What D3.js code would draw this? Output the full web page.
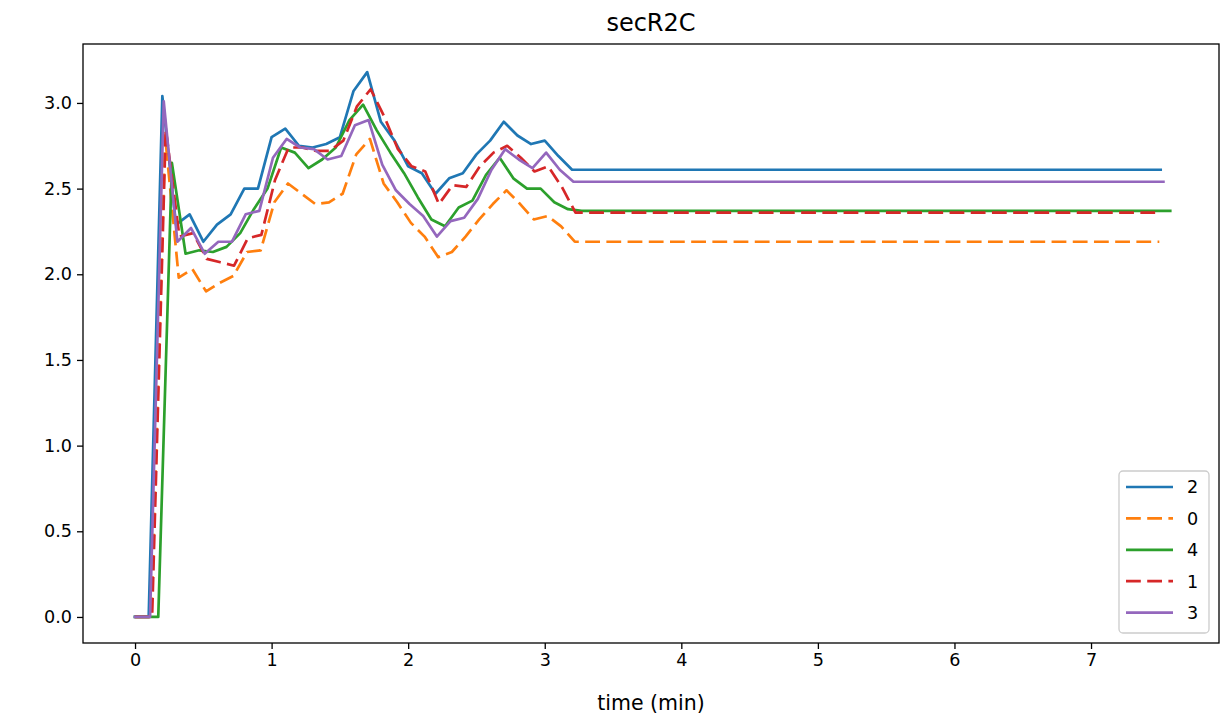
<!DOCTYPE html>
<html>
<head>
<meta charset="utf-8">
<script src="https://cdn.jsdelivr.net/npm/d3@7"></script>
<style>
  html, body { margin: 0; padding: 0; background: #fff; }
  svg { display: block; font-family: "DejaVu Sans", sans-serif; }
</style>
</head>
<body>
<svg id="chart" width="1221" height="720"></svg>
<script>
// ---- data ----
const chartTitle = "secR2C";
const xLabel = "time (min)";
const times = [0, 0.1, 0.2, 0.3, 0.4, 0.5, 0.6, 0.7, 0.8, 0.9, 1.0, 1.1, 1.2, 1.3, 1.4, 1.5, 1.6,
               1.7, 1.8, 1.9, 2.0, 2.1, 2.2, 2.3, 2.4, 2.5, 2.6, 2.7, 2.8, 2.9, 3.0, 3.1, 3.2];
const seriesNames = ["2", "0", "4", "1", "3"];
const timeShift = [0, 0.02, 0.07, 0.025, 0.01];
const endTimes = [7.51, 7.50, 7.58, 7.50, 7.53];
const values2 = [0, 0, 3.04, 2.29, 2.35, 2.19, 2.29, 2.35, 2.50, 2.50, 2.80, 2.85, 2.75, 2.74, 2.76, 2.80, 3.07,
                 3.18, 2.89, 2.78, 2.63, 2.59, 2.47, 2.56, 2.59, 2.70, 2.78, 2.89, 2.81, 2.76, 2.78, 2.69, 2.61];
const values0 = [0, 0, 2.81, 1.98, 2.03, 1.90, 1.95, 1.99, 2.13, 2.14, 2.42, 2.53, 2.47, 2.41, 2.42, 2.47, 2.70,
                 2.79, 2.53, 2.42, 2.30, 2.22, 2.10, 2.13, 2.22, 2.32, 2.41, 2.49, 2.41, 2.32, 2.34, 2.28, 2.19];
const values4 = [0, 0, 2.65, 2.12, 2.14, 2.13, 2.16, 2.24, 2.38, 2.50, 2.74, 2.71, 2.62, 2.67, 2.74, 2.90, 2.99,
                 2.84, 2.71, 2.59, 2.45, 2.32, 2.28, 2.39, 2.43, 2.58, 2.68, 2.56, 2.50, 2.50, 2.42, 2.38, 2.37];
const values1 = [0, 0, 2.85, 2.22, 2.24, 2.09, 2.07, 2.05, 2.21, 2.23, 2.55, 2.74, 2.74, 2.72, 2.72, 2.78, 2.98,
                 3.08, 2.92, 2.73, 2.63, 2.60, 2.41, 2.52, 2.51, 2.63, 2.71, 2.75, 2.68, 2.60, 2.63, 2.51, 2.36];
const values3 = [0, 0, 3.01, 2.19, 2.27, 2.12, 2.19, 2.19, 2.35, 2.37, 2.68, 2.79, 2.74, 2.73, 2.67, 2.69, 2.87,
                 2.90, 2.64, 2.49, 2.41, 2.34, 2.22, 2.31, 2.33, 2.44, 2.61, 2.73, 2.67, 2.62, 2.71, 2.61, 2.54];
const xTicks = [0, 1, 2, 3, 4, 5, 6, 7];
const yTicks = [0.0, 0.5, 1.0, 1.5, 2.0, 2.5, 3.0];

// ---- styles ----
const colors = ["#1f77b4", "#ff7f0e", "#2ca02c", "#d62728", "#9467bd"];
const dashed = [false, true, false, true, false];
const allValues = [values2, values0, values4, values1, values3];

const svg = d3.select("#chart");
const plot = { left: 83, right: 1219, top: 44, bottom: 643 };

const x = d3.scaleLinear().domain([-0.381, 7.937]).range([plot.left, plot.right]);
const y = d3.scaleLinear().domain([-0.152, 3.344]).range([plot.bottom, plot.top]);

const series = seriesNames.map((name, k) => {
  const vals = allValues[k];
  const pts = vals.map((v, i) => [i === 0 ? times[0] : times[i] + timeShift[k], v]);
  pts.push([endTimes[k], vals[vals.length - 1]]);
  return { name, pts, color: colors[k], dashed: dashed[k] };
});

const line = d3.line().x(d => x(d[0])).y(d => y(d[1]));

svg.append("defs").append("clipPath").attr("id", "clip")
  .append("rect").attr("x", plot.left).attr("y", plot.top)
  .attr("width", plot.right - plot.left).attr("height", plot.bottom - plot.top);

const g = svg.append("g").attr("clip-path", "url(#clip)");
series.forEach(s => {
  g.append("path")
    .attr("d", line(s.pts))
    .attr("fill", "none")
    .attr("stroke", s.color)
    .attr("stroke-width", 2.7)
    .attr("stroke-linejoin", "round")
    .attr("stroke-linecap", s.dashed ? "butt" : "square")
    .attr("stroke-dasharray", s.dashed ? "14.8,6.4" : null);
});

// axes
const xAxis = d3.axisBottom(x).tickValues(xTicks).tickFormat(d3.format("d")).tickSize(6).tickPadding(5);
const yAxis = d3.axisLeft(y).tickValues(yTicks).tickFormat(d3.format(".1f")).tickSize(6).tickPadding(5);

const gx = svg.append("g").attr("transform", `translate(0,${plot.bottom})`).call(xAxis);
const gy = svg.append("g").attr("transform", `translate(${plot.left},0)`).call(yAxis);
[gx, gy].forEach(a => {
  a.select(".domain").remove();
  a.selectAll(".tick line").attr("stroke", "#000").attr("stroke-width", 1.3);
  a.selectAll(".tick text").attr("fill", "#000").attr("font-size", 17.6)
    .attr("font-family", "DejaVu Sans, sans-serif");
});

// frame
svg.append("rect")
  .attr("x", plot.left).attr("y", plot.top)
  .attr("width", plot.right - plot.left).attr("height", plot.bottom - plot.top)
  .attr("fill", "none").attr("stroke", "#000").attr("stroke-width", 1.3);

// title and axis label
svg.append("text").attr("x", (plot.left + plot.right) / 2).attr("y", 31)
  .attr("text-anchor", "middle").attr("font-size", 24).attr("fill", "#000").text(chartTitle);
svg.append("text").attr("x", (plot.left + plot.right) / 2).attr("y", 710)
  .attr("text-anchor", "middle").attr("font-size", 20.5).attr("fill", "#000").text(xLabel);

// legend
const lg = svg.append("g");
const lx = 1119, ly = 471, lw = 90, lh = 162;
lg.append("rect").attr("x", lx).attr("y", ly).attr("width", lw).attr("height", lh)
  .attr("rx", 4).attr("fill", "#fff").attr("fill-opacity", 0.8)
  .attr("stroke", "#ccc").attr("stroke-width", 1.3);
series.forEach((s, i) => {
  const yy = ly + 16 + i * 31.4;
  lg.append("line").attr("x1", lx + 7).attr("x2", lx + 54).attr("y1", yy).attr("y2", yy)
    .attr("stroke", s.color).attr("stroke-width", 2.7)
    .attr("stroke-dasharray", s.dashed ? "14.8,6.4" : null);
  lg.append("text").attr("x", lx + 68).attr("y", yy).attr("dy", "0.36em")
    .attr("font-size", 17.6).attr("fill", "#000").text(s.name);
});
</script>
</body>
</html>
